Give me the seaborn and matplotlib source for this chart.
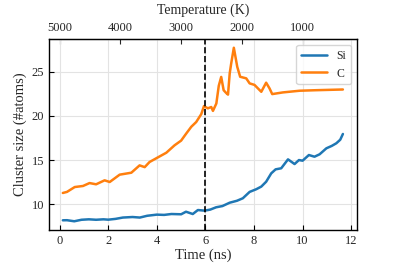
import numpy as np
import pandas as pd
import seaborn as sns
import matplotlib
matplotlib.use("Agg")
import matplotlib.pyplot as plt

# values
si_time = [0.13, 0.3, 0.6, 0.9, 1.2, 1.5, 1.8, 2.0, 2.3, 2.6, 3.0, 3.3, 3.6, 4.0, 4.3, 4.6,
           5.0, 5.2, 5.48, 5.69, 5.97, 6.2, 6.44, 6.7, 7.0, 7.3, 7.54, 7.82, 8.09, 8.3, 8.5,
           8.71, 8.89, 9.12, 9.4, 9.67, 9.85, 10.0, 10.26, 10.49, 10.7, 10.98, 11.2, 11.39,
           11.55, 11.66]
si_size = [8.19, 8.2, 8.08, 8.25, 8.3, 8.25, 8.3, 8.26, 8.35, 8.5, 8.56, 8.5, 8.7, 8.83, 8.8,
           8.9, 8.87, 9.16, 8.9, 9.35, 9.28, 9.4, 9.66, 9.8, 10.18, 10.4, 10.68, 11.4, 11.7,
           12.0, 12.55, 13.5, 13.95, 14.07, 15.08, 14.55, 15.0, 14.93, 15.57, 15.38, 15.65,
           16.33, 16.6, 16.9, 17.3, 17.95]

c_time = [0.13, 0.3, 0.62, 0.96, 1.23, 1.5, 1.85, 2.06, 2.47, 2.95, 3.29, 3.5, 3.7, 4.12,
          4.39, 4.73, 5.0, 5.21, 5.42, 5.62, 5.83, 5.94, 6.1, 6.24, 6.31, 6.45, 6.55, 6.65,
          6.75, 6.85, 6.93, 7.0, 7.06, 7.17, 7.31, 7.43, 7.68, 7.82, 8.02, 8.3, 8.5, 8.64,
          8.75, 9.19, 9.88, 10.56, 11.66]
c_size = [11.28, 11.4, 11.95, 12.07, 12.4, 12.26, 12.71, 12.52, 13.35, 13.57, 14.4, 14.2,
          14.78, 15.42, 15.83, 16.67, 17.2, 18.0, 18.77, 19.3, 20.2, 21.1, 20.85, 21.0, 20.56,
          21.4, 23.4, 24.4, 22.9, 22.6, 22.4, 24.8, 25.9, 27.7, 25.55, 24.42, 24.24, 23.67,
          23.5, 22.72, 23.75, 23.1, 22.46, 22.65, 22.84, 22.9, 22.98]

temp_ticks = [5000, 4000, 3000, 2000, 1000]
t_mark = 6

sns.set_style("ticks")
plt.rcParams['font.family'] = ['Liberation Serif', 'DejaVu Serif']

fig, ax = plt.subplots(figsize=(3.97, 2.64), dpi=100)
fig.subplots_adjust(left=0.123, right=0.899, top=0.852, bottom=0.129)

sns.lineplot(x=si_time, y=si_size, ax=ax, color='#1f77b4', lw=1.8, label='Si')
sns.lineplot(x=c_time, y=c_size, ax=ax, color='#ff7f0e', lw=1.8, label='C')
ax.axvline(t_mark, color='black', ls='--', lw=1.2)

ax.grid(True, color='#e3e3e3', lw=0.8)
ax.set_axisbelow(True)
ax.set_xticks([0, 2, 4, 6, 8, 10, 12])
ax.set_yticks([10, 15, 20, 25])
ax.tick_params(direction='in', labelsize=9, length=3.5, color='black')
for s in ax.spines.values():
    s.set_color('black')
    s.set_linewidth(1.0)
ax.set_xlabel("Time (ns)", fontsize=10.5, labelpad=1)
ax.set_ylabel("Cluster size (#atoms)", fontsize=10.5, labelpad=3)

top = ax.secondary_xaxis('top', functions=(lambda t: 5000 - 400 * np.asarray(t),
                                            lambda T: (5000 - np.asarray(T)) / 400))
top.set_xticks(temp_ticks)
top.tick_params(direction='in', labelsize=9, length=3.5)
top.set_xlabel("Temperature (K)", fontsize=10, labelpad=6)

ax.legend(loc='upper right', fontsize=8.5, handlelength=2.2, frameon=True)

plt.savefig("out.png", dpi=100)
